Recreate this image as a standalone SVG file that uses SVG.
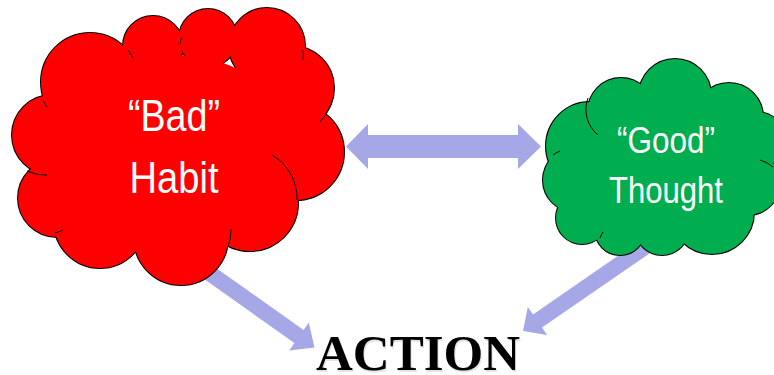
<svg xmlns="http://www.w3.org/2000/svg" xmlns:xlink="http://www.w3.org/1999/xlink" width="774" height="375" viewBox="0 0 774 375">
  <style>
    .arrow { fill: #A6A7E7; stroke: none; }
    .red-o { fill: #FF0000; stroke: #000; stroke-width: 2; }
    .red-f { fill: #FF0000; stroke: none; }
    .grn-o { fill: #00AE4F; stroke: #000; stroke-width: 2; }
    .grn-f { fill: #00AE4F; stroke: none; }
    .inner { fill: none; stroke: #000; stroke-width: 1; }
    .label { font-family: "Liberation Sans", Arial, sans-serif; fill: #FFFFFF; text-anchor: middle; }
    .action { font-family: "Liberation Serif", "Times New Roman", serif; font-weight: bold; font-size: 51px; text-anchor: middle; }
  </style>
  <defs>
    <g id="redBumps">
      <circle cx="90" cy="82" r="49"/>
      <circle cx="153" cy="46" r="30"/>
      <circle cx="208" cy="38" r="29"/>
      <circle cx="267" cy="46" r="38"/>
      <circle cx="292" cy="88" r="42"/>
      <circle cx="296" cy="152" r="48"/>
      <circle cx="250" cy="203" r="48"/>
      <circle cx="181" cy="238" r="47"/>
      <circle cx="100" cy="222" r="46"/>
      <circle cx="57" cy="198" r="39"/>
      <circle cx="52" cy="135" r="40"/>
    </g>
    <g id="grnBumps">
      <circle cx="590" cy="146" r="44"/>
      <circle cx="621" cy="111" r="33"/>
      <circle cx="675" cy="95" r="36"/>
      <circle cx="729" cy="117" r="34"/>
      <circle cx="757" cy="140" r="28"/>
      <circle cx="748" cy="183" r="32"/>
      <circle cx="712" cy="212" r="42"/>
      <circle cx="662" cy="228" r="27"/>
      <circle cx="620" cy="230" r="25"/>
      <circle cx="582" cy="218" r="26"/>
      <circle cx="575" cy="180" r="32"/>
    </g>
  </defs>

  <g id="connectors">
    <polygon class="arrow" points="346,146.5 368,124 368,135 518,135 518,124 541,146.5 518,169 518,158 368,158 368,169"/>
    <polygon class="arrow" points="177.1,240.4 303.6,330 308.8,322.6 314.5,347.5 289.2,350.4 294.4,343 167.9,253.4"/>
    <polygon class="arrow" points="656.5,229.2 533,314.4 527.8,307 523,331 547.2,335 542,327.6 665.5,242.4"/>
  </g>

  <g id="bad-habit">
    <use xlink:href="#redBumps" class="red-o"/>
    <use xlink:href="#redBumps" class="red-f"/>
    <ellipse class="red-f" cx="175" cy="150" rx="120" ry="95"/>
    <path class="inner" d="M272,155 A50 50 0 0 1 297,200"/>
    <path class="inner" d="M228,247 A47 47 0 0 0 231,229"/>
    <path class="inner" d="M128,50 A49 49 0 0 1 133,58"/>
    <path class="inner" d="M43,100 A49 49 0 0 0 47,107"/>
    <path class="inner" d="M303,50 A38 38 0 0 1 303,60"/>
    <path class="inner" d="M182,37 A29 29 0 0 0 180,44"/>
    <path class="inner" d="M27,171 A40 40 0 0 0 47,175"/>
    <path class="inner" d="M55,233 A39 39 0 0 0 63,230"/>
    <path class="inner" d="M320,122 A48 48 0 0 0 330,107"/>
    <text class="label" font-size="44" x="174" y="131" textLength="92" lengthAdjust="spacingAndGlyphs">“Bad”</text>
    <text class="label" font-size="44" x="174" y="193" textLength="89" lengthAdjust="spacingAndGlyphs">Habit</text>
  </g>

  <g id="good-thought">
    <use xlink:href="#grnBumps" class="grn-o"/>
    <use xlink:href="#grnBumps" class="grn-f"/>
    <ellipse class="grn-f" cx="655" cy="165" rx="85" ry="65"/>
    <path class="inner" d="M588,98 A33 33 0 0 0 598,135"/>
    <path class="inner" d="M553,155 A30 30 0 0 1 560,151"/>
    <path class="inner" d="M760,160 A32 32 0 0 1 773,167"/>
    <path class="inner" d="M603,232 A25 25 0 0 0 600,238"/>
    <text class="label" font-size="37" x="666" y="153" textLength="98" lengthAdjust="spacingAndGlyphs">“Good”</text>
    <text class="label" font-size="37" x="666" y="203" textLength="114" lengthAdjust="spacingAndGlyphs">Thought</text>
  </g>

  <g id="action">
    <text class="action" x="419" y="371.5" fill="#E4E4E4">ACTION</text>
    <text class="action" x="418" y="370" fill="#000000">ACTION</text>
  </g>
</svg>
